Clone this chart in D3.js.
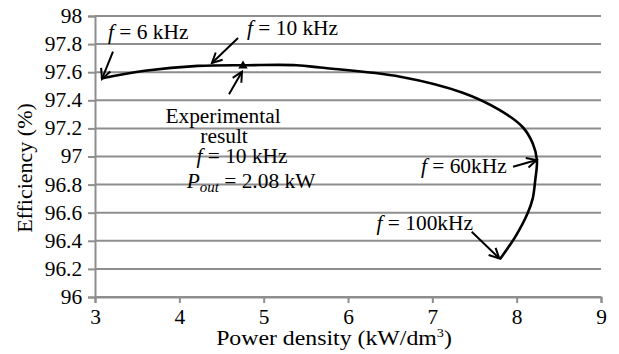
<!DOCTYPE html>
<html>
<head>
<meta charset="utf-8">
<script src="https://cdn.jsdelivr.net/npm/d3@7"></script>
<style>
  body { margin: 0; background: #fff; }
  svg { display: block; }
</style>
</head>
<body>
<svg width="619" height="354"></svg>
<script>
// power density (kW/dm3) and efficiency (%) along the frequency sweep
const powerDensity = [3.07, 3.59, 4.22, 4.8, 5.39, 5.67, 6.62, 7.36, 7.8, 8.07, 8.19, 8.24, 8.22, 8.19, 8.13, 7.985, 7.8];
const efficiency = [97.555, 97.61, 97.645, 97.65, 97.65, 97.633, 97.568, 97.454, 97.33, 97.21, 97.094, 96.975, 96.83, 96.7, 96.596, 96.43, 96.268];
const xTicks = [3, 4, 5, 6, 7, 8, 9];
const yTicks = [96, 96.2, 96.4, 96.6, 96.8, 97, 97.2, 97.4, 97.6, 97.8, 98];
const experiment = [[4.755, 97.645]];

// arrows: [fromX, fromY, toX, toY] in data units
const arrows = [
  [3.213, 97.746, 3.083, 97.552],
  [4.696, 97.843, 4.387, 97.665],
  [4.589, 97.443, 4.743, 97.604],
  [7.957, 96.927, 8.238, 96.975],
  [7.467, 96.465, 7.794, 96.275]
];

const fs = 20, sx = 1.07;
const font = '"Liberation Serif"';
const svg = d3.select('svg');
const plotLeft = 95, plotRight = 601, plotTop = 16, plotBottom = 297;

const x = d3.scaleLinear().domain([3, 9]).range([plotLeft, plotRight]);
const y = d3.scaleLinear().domain([96, 98]).range([plotBottom, plotTop]);

const grid = '#8e8e8e';

// horizontal gridlines
svg.append('g')
  .selectAll('line')
  .data(yTicks)
  .enter()
  .append('line')
  .attr('x1', plotLeft)
  .attr('x2', plotRight)
  .attr('y1', (d) => y(d))
  .attr('y2', (d) => y(d))
  .attr('stroke', grid)
  .attr('stroke-width', 2);

const yAxis = svg.append('g')
  .attr('transform', `translate(${plotLeft},0)`)
  .call(d3.axisLeft(y).tickValues(yTicks).tickSize(7).tickPadding(5).tickFormat((d) => d3.format('~f')(d)));
const xAxis = svg.append('g')
  .attr('transform', `translate(0,${plotBottom})`)
  .call(d3.axisBottom(x).tickValues(xTicks).tickSize(6).tickPadding(6.5).tickFormat(d3.format('d')));

[xAxis, yAxis].forEach((ax) => {
  ax.select('.domain').attr('stroke', grid).attr('stroke-width', 2);
  ax.selectAll('.tick line').attr('stroke', grid).attr('stroke-width', 2);
  ax.selectAll('.tick text')
    .style('font-size', fs + 'px')
    .style('font-family', font)
    .attr('fill', '#000')
    .attr('transform', `scale(${sx},1)`);
});

// curve
const pts = powerDensity.map((d, i) => [d, efficiency[i]]);
const line = d3.line()
  .x((d) => x(d[0]))
  .y((d) => y(d[1]))
  .curve(d3.curveCatmullRom.alpha(0.5));
svg.append('path')
  .attr('d', line(pts))
  .attr('fill', 'none')
  .attr('stroke', '#000')
  .attr('stroke-width', 2.6);

// experimental point
svg.selectAll('.exp')
  .data(experiment)
  .enter()
  .append('path')
  .attr('class', 'exp')
  .attr('transform', (d) => `translate(${x(d[0])},${y(d[1])})`)
  .attr('d', d3.symbol(d3.symbolTriangle, 38));

// arrows
svg.append('defs').append('marker')
  .attr('id', 'head')
  .attr('markerUnits', 'userSpaceOnUse')
  .attr('viewBox', '-12 -7 14 14')
  .attr('markerWidth', 14)
  .attr('markerHeight', 14)
  .attr('refX', 0)
  .attr('refY', 0)
  .attr('orient', 'auto')
  .append('path')
  .attr('d', 'M-10,-5L0,0L-10,5')
  .attr('fill', 'none')
  .attr('stroke', '#000')
  .attr('stroke-width', 2);

svg.append('g')
  .selectAll('line')
  .data(arrows)
  .enter()
  .append('line')
  .attr('x1', (d) => x(d[0]))
  .attr('y1', (d) => y(d[1]))
  .attr('x2', (d) => x(d[2]))
  .attr('y2', (d) => y(d[3]))
  .attr('stroke', '#000')
  .attr('stroke-width', 2)
  .attr('marker-end', 'url(#head)');

// text helper
function label(px, py, anchor, parts, rot, scaleX) {
  const t = svg.append('text')
    .attr('transform', `translate(${px},${py})${rot ? ` rotate(${rot})` : ''} scale(${scaleX || sx},1)`)
    .attr('text-anchor', anchor)
    .style('font-family', font)
    .style('font-size', fs + 'px')
    .attr('fill', '#000');
  parts.forEach((p) => {
    const s = t.append('tspan').text(p.t);
    if (p.i) s.style('font-style', 'italic');
    if (p.sub) s.style('font-size', fs * 0.7 + 'px').attr('dy', 4);
    if (p.sup) s.style('font-size', fs * 0.6 + 'px').attr('dy', -8);
    if (p.back) s.attr('dy', p.back);
  });
  return t;
}

const f = (rest) => [{ t: 'f', i: true }, { t: rest }];

label(x(3.154), y(97.834), 'start', f(' = 6 kHz'));
label(x(4.802), y(97.865), 'start', f(' = 10 kHz'));
label(x(4.518), y(97.241), 'middle', [{ t: 'Experimental' }]);
label(x(4.53), y(97.096), 'middle', [{ t: 'result' }]);
label(x(4.743), y(96.956), 'middle', f(' = 10 kHz'));
label(x(4.85), y(96.776), 'middle', [
  { t: 'P', i: true },
  { t: 'out', i: true, sub: true },
  { t: ' = 2.08 kW', back: -4 }
]);
label(x(7.882), y(96.88), 'end', f(' = 60kHz'));
label(x(7.482), y(96.477), 'end', f(' = 100kHz'));

// axis titles
label(334, 345, 'middle', [
  { t: 'Power density (kW/dm' },
  { t: '3', sup: true },
  { t: ')', back: 8 }
], 0, 1.19);
label(32, 168, 'middle', [{ t: 'Efficiency (%)' }], -90, 1.1);
</script>
</body>
</html>
